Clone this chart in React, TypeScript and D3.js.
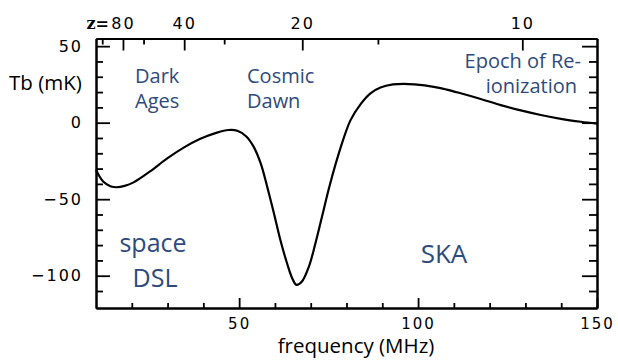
import React, { useEffect, useRef } from 'react';
import * as d3 from 'd3';

// brightness temperature curve
const freqMHz = [10, 12, 14, 15.8, 18, 20.5, 25, 30, 34.5, 39, 43.8, 47, 49.5, 52, 54, 56, 57.8, 59.7, 61.5, 63.4, 64.8, 66, 67.5, 69.5, 71.3, 73.2, 75.3, 78.4, 81.1, 83.9, 86.7, 89.5, 93, 96, 99, 104.4, 108, 111.9, 117.5, 123.1, 128.7, 134.3, 139.9, 145.5, 150];
const tbMilliK = [-31, -38.5, -41.5, -42.2, -41.3, -39, -32, -23.2, -16.3, -10.7, -6.5, -4.8, -5.3, -9, -15.5, -26.5, -41.5, -59, -76.5, -92, -101.5, -106, -104, -94, -79, -61, -41, -16, 1.5, 12, 19.2, 23, 25, 25.4, 25, 23.4, 21.6, 19.2, 15.5, 11.5, 8, 5, 2.5, 0.6, -0.6];

const freqMajorTicks = [50, 100, 150];
const freqMinorTicks = [20, 30, 40, 60, 70, 80, 90, 110, 120, 130, 140];
const tbMajorTicks = [50, 0, -50, -100];
const tbMinorTicks = [40, 30, 20, 10, -10, -20, -30, -40, -60, -70, -80, -90, -110];
const zMajorTicks = [80, 40, 20, 10];
const zMinorTicks = [120, 60, 30, 15];

const notes = [
  { lines: ['Dark', 'Ages'], x: 135, y: 82.5 },
  { lines: ['Cosmic', 'Dawn'], x: 247, y: 82.5 },
];

const HI = 1420.4;

export default function App() {
  const ref = useRef<SVGSVGElement>(null);

  useEffect(() => {
    const svg = d3.select(ref.current);
    svg.selectAll('*').remove();

    const left = 96, right = 597, top = 38.5, bottom = 308;

    const x = d3.scaleLinear().domain([10, 150]).range([left, right]);
    const y = d3.scaleLinear().domain([-121.1, 55]).range([bottom, top]);
    const zToF = (z: number) => HI / (1 + z);

    const tickFont = (g: any) => g
      .attr('font-family', '"DejaVu Sans", sans-serif')
      .attr('font-size', 16)
      .attr('letter-spacing', 2);

    const styleAxis = (g: any) => {
      g.select('.domain').attr('stroke', '#000').attr('stroke-width', 2);
      g.selectAll('.tick line').attr('stroke', '#000').attr('stroke-width', 1.8);
      g.selectAll('.tick text').attr('fill', '#000');
    };

    // left axis
    svg.append('g')
      .attr('transform', `translate(${left},0)`)
      .call(d3.axisLeft(y).tickValues(tbMinorTicks).tickSize(-7).tickSizeOuter(0).tickFormat(() => ''))
      .call(styleAxis);
    svg.append('g')
      .attr('transform', `translate(${left},0)`)
      .call(d3.axisLeft(y).tickValues(tbMajorTicks).tickSize(-14).tickSizeOuter(0).tickPadding(13)
        .tickFormat((d: any) => (d < 0 ? '\u2212' + Math.abs(d) : String(d))))
      .call(tickFont)
      .call(styleAxis);

    // right axis
    svg.append('g')
      .attr('transform', `translate(${right},0)`)
      .call(d3.axisRight(y).tickValues(tbMinorTicks).tickSize(-8).tickSizeOuter(0).tickFormat(() => ''))
      .call(styleAxis);
    svg.append('g')
      .attr('transform', `translate(${right},0)`)
      .call(d3.axisRight(y).tickValues(tbMajorTicks).tickSize(-15).tickSizeOuter(0).tickFormat(() => ''))
      .call(styleAxis);

    // bottom axis
    svg.append('g')
      .attr('transform', `translate(0,${bottom})`)
      .call(d3.axisBottom(x).tickValues(freqMinorTicks).tickSize(-5).tickSizeOuter(0).tickFormat(() => ''))
      .call(styleAxis);
    svg.append('g')
      .attr('transform', `translate(0,${bottom})`)
      .call(d3.axisBottom(x).tickValues(freqMajorTicks).tickSize(-10).tickSizeOuter(0).tickPadding(10))
      .call(tickFont)
      .attr('font-size', 15)
      .call(styleAxis);

    // top axis in redshift
    svg.append('g')
      .attr('transform', `translate(0,${top})`)
      .call(d3.axisTop(x).tickValues(zMinorTicks.map(zToF)).tickSize(-6).tickSizeOuter(0).tickFormat(() => ''))
      .call(styleAxis);
    svg.append('g')
      .attr('transform', `translate(0,${top})`)
      .call(d3.axisTop(x).tickValues(zMajorTicks.map(zToF)).tickSize(-12).tickSizeOuter(0).tickPadding(10)
        .tickFormat((f: any) => String(Math.round(HI / f - 1))))
      .call(tickFont)
      .call(styleAxis);

    svg.append('text')
      .attr('x', x(zToF(80)) - 14)
      .attr('y', 28.5)
      .attr('text-anchor', 'end')
      .attr('font-family', '"DejaVu Serif", serif')
      .attr('font-size', 16)
      .attr('font-weight', 'bold')
      .text('z=');

    // curve
    const line = d3.line<number>()
      .x((d) => x(d))
      .y((_, i) => y(tbMilliK[i]))
      .curve(d3.curveCatmullRom.alpha(0.5));

    svg.append('path')
      .datum(freqMHz)
      .attr('d', line)
      .attr('fill', 'none')
      .attr('stroke', '#000')
      .attr('stroke-width', 2.2);

    // axis titles
    svg.append('text')
      .attr('x', 9)
      .attr('y', 90)
      .attr('font-family', '"Open Sans", sans-serif')
      .attr('font-size', 20.5)
      .attr('fill', '#000')
      .text('Tb (mK)');

    svg.append('text')
      .attr('x', 356)
      .attr('y', 353)
      .attr('text-anchor', 'middle')
      .attr('font-family', '"Open Sans", sans-serif')
      .attr('font-size', 20.5)
      .attr('fill', '#000')
      .text('frequency (MHz)');

    // epoch notes, one text per line
    const blue = '#2e4b7c';
    const note = (s: string, px: number, py: number, size: number, anchor = 'start') =>
      svg.append('text')
        .attr('x', px)
        .attr('y', py)
        .attr('text-anchor', anchor)
        .attr('font-family', '"Open Sans", sans-serif')
        .attr('font-size', size)
        .attr('fill', blue)
        .text(s);

    notes.forEach((n) => {
      n.lines.forEach((l, i) => note(l, n.x, n.y + i * 25, 20));
    });

    note('Epoch of Re-', 581, 67.5, 20, 'end');
    note('ionization', 577, 93, 20, 'end');

    note('space', 153, 252, 25, 'middle');
    note('DSL', 155, 287, 25, 'middle');

    note('SKA', 444, 263, 26, 'middle');
  }, []);

  return (
    <div style={{ position: 'fixed', left: 0, top: 0 }}>
      <svg ref={ref} width={618} height={360} viewBox='0 0 618 360' style={{ display: 'block', background: '#fff' }} />
    </div>
  );
}
